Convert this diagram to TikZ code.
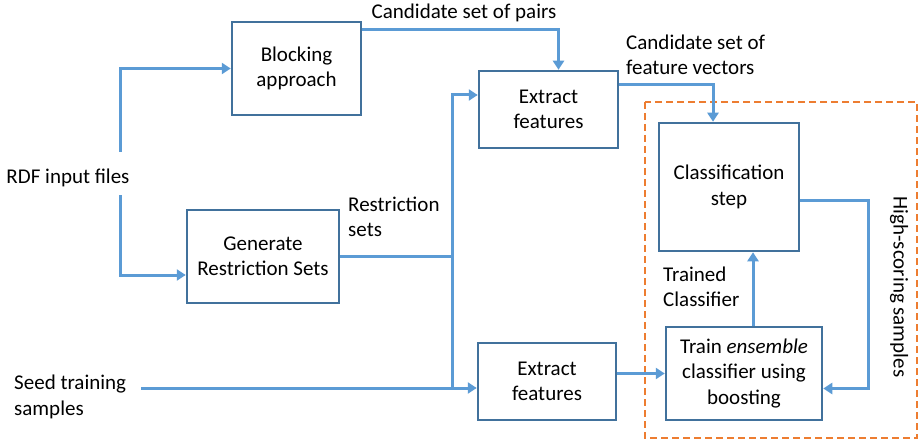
\documentclass[tikz,border=0pt]{standalone}
\usepackage{fontspec}
\setmainfont{Carlito}
\usetikzlibrary{arrows.meta,calc}
\definecolor{boxblue}{HTML}{41719C}
\definecolor{flowblue}{HTML}{5B9BD5}
\definecolor{groupor}{HTML}{ED7D31}
\begin{document}
\begin{tikzpicture}[x=1pt,y=-1pt,
  font=\fontsize{21}{25.5}\selectfont,
  procbox/.style={draw=boxblue,line width=2.5pt,fill=white,align=center,inner sep=0pt},
  flow/.style={draw=flowblue,line width=3pt,-{Triangle[length=9pt,width=11pt]}},
  plainflow/.style={draw=flowblue,line width=3pt},
  lbl/.style={align=left,inner sep=0pt}]
\useasboundingbox (0,0) rectangle (921,441);

% group of the classification loop
\draw[groupor,line width=2.5pt,dash pattern=on 7pt off 4pt] (645,102) rectangle (917,438);

% process boxes
\node[procbox,minimum width=129pt,minimum height=93pt] (blk) at (296.5,68.5) {Blocking\\approach};
\node[procbox,minimum width=152pt,minimum height=93pt] (gen) at (263,256.5) {Generate\\Restriction Sets};
\node[procbox,minimum width=139pt,minimum height=77pt] (ex1) at (548.5,109.5) {Extract\\features};
\node[procbox,minimum width=138pt,minimum height=77pt] (ex2) at (547,381.5) {Extract\\features};
\node[procbox,minimum width=140pt,minimum height=128pt] (cls) at (729,187) {Classification\\step};
\node[procbox,minimum width=156pt,minimum height=93pt] (trn) at (744,373.5) {Train \emph{ensemble}\\classifier using\\boosting};

% inputs
\node[lbl] (rdf) at (68,178) {RDF input files};
\node[lbl,anchor=west] (seed) at (14,397) {Seed training\\samples};

% edge labels
\node[lbl] (lpairs) at (464,13) {Candidate set of pairs};
\node[lbl,anchor=west] (lvec) at (626,55) {Candidate set of\\feature vectors};
\node[lbl,anchor=west] (lres) at (348,217) {Restriction\\sets};
\node[lbl,anchor=west] (ltrn) at (663,287) {Trained\\Classifier};
\node[lbl,rotate=-90] (lhigh) at (899,287) {High-scoring samples};

% helper points
\coordinate (rdfUp) at (120,152);
\coordinate (rdfDn) at (120,195);
\coordinate (seedOut) at (141,388);
\coordinate (junc) at (452,388);
\coordinate (loopC) at (868,300);

% connectors
\draw[flow] (rdfUp) |- (blk.west);
\draw[flow] (rdfDn) |- ([yshift=-18.5pt]gen.west);
\draw[flow] ([yshift=-9pt]blk.north east) -| ([xshift=10pt]ex1.north);
\draw[flow] ([yshift=-15pt]ex1.north east) -| ([xshift=-16pt]cls.north);
\draw[plainflow] (gen.east) -- (gen.east -| junc);
\draw[flow] (seedOut) -- (ex2.west |- seedOut);
\draw[flow] (junc) |- ([yshift=14.5pt]ex1.west);
\draw[flow] (ex2.east |- trn.west) -- (trn.west);
\draw[flow] ([xshift=9pt]trn.north) -- ([xshift=9pt]trn.north |- cls.south);
\draw[flow] ([yshift=-13pt]cls.east) -| (loopC) |- ([yshift=-15pt]trn.east);
\end{tikzpicture}
\end{document}
